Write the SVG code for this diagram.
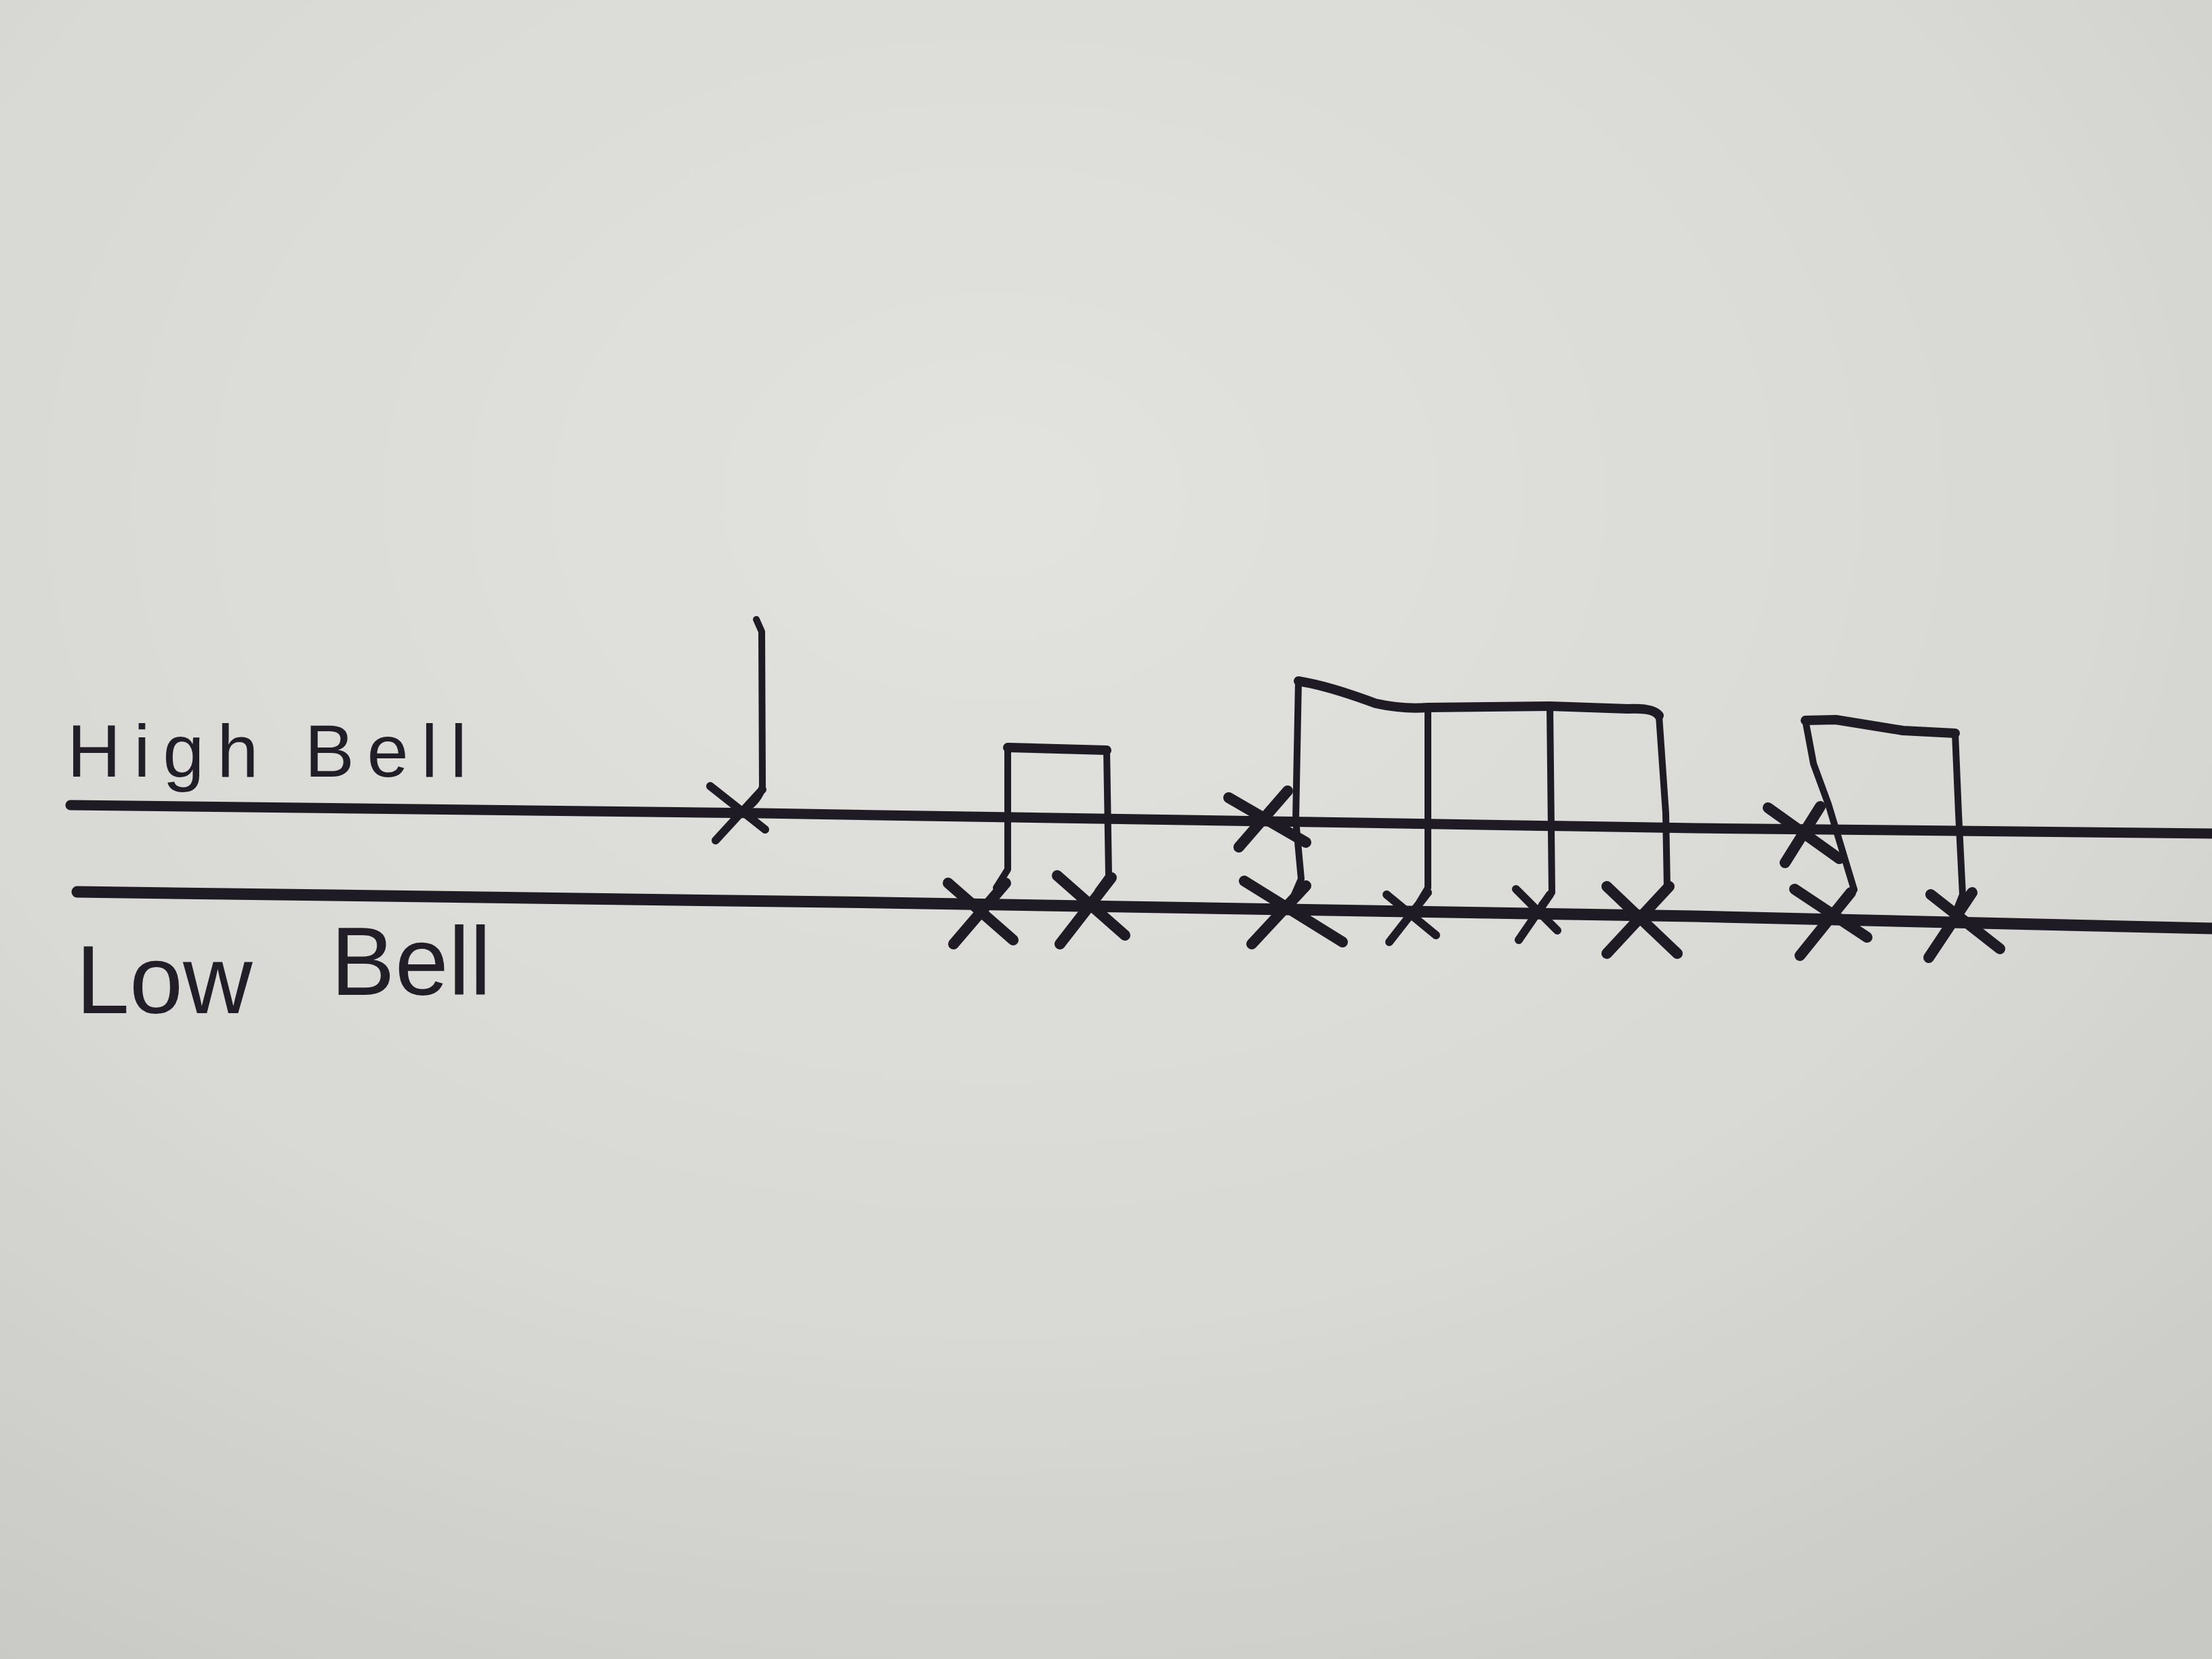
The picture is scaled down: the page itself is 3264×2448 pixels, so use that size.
<svg xmlns="http://www.w3.org/2000/svg" width="3264" height="2448" viewBox="0 0 3264 2448">
<defs>
<radialGradient id="paper" cx="0.45" cy="0.3" r="0.85">
<stop offset="0" stop-color="#e2e2de"/>
<stop offset="0.6" stop-color="#d8d8d4"/>
<stop offset="1" stop-color="#c8c8c4"/>
</radialGradient>
<style>
.ink{fill:none;stroke:#1f1b24;stroke-linecap:round;stroke-linejoin:round}
.staff{stroke-width:15}
.stem{stroke-width:10}
.beam{stroke-width:14}
.x{stroke-width:16}
.xs{stroke-width:12}
.lbl{font-family:"Liberation Sans","DejaVu Sans",sans-serif;fill:#221e28}
</style>
</defs>
<rect width="3264" height="2448" fill="url(#paper)"/>

<g id="staff">
<polyline class="ink staff" points="104,1188 1124,1200 1300,1203 2500,1222 3264,1230"/>
<polyline class="ink staff" points="114,1316 1300,1332 2500,1352 3264,1370" style="stroke-width:17"/>
</g>

<g id="labels">
<text class="lbl" x="99" y="1146" font-size="110" textLength="590" lengthAdjust="spacing">High Bell</text>
<text class="lbl" font-size="142"><tspan x="112" y="1495">Low</tspan> <tspan x="488" y="1468">Bell</tspan></text>
</g>

<g id="note-quarter">
<path class="ink stem" d="M1116,914 L1124,932 L1125,1160 Q1122,1182 1092,1200"/>
<path class="ink xs" d="M1048,1160 L1129,1224 M1125,1165 L1056,1240"/>
</g>

<g id="group1">
<path class="ink beam" d="M1487,1103 L1633,1107"/>
<path class="ink stem" d="M1487,1103 L1487,1283 L1470,1310"/>
<path class="ink stem" d="M1633,1107 L1636,1293 L1620,1315"/>
<path class="ink x" d="M1399,1303 L1495,1387 M1484,1303 L1407,1393"/>
<path class="ink x" d="M1560,1292 L1660,1380 M1640,1295 L1564,1393"/>
</g>

<g id="group2">
<path class="ink beam" d="M1916,1005 Q1960,1012 2030,1038 Q2070,1047 2107,1044 L2287,1042 L2402,1046 Q2440,1044 2448,1056"/>
<path class="ink stem" d="M1916,1005 L1912,1210 L1920,1297 L1910,1320"/>
<path class="ink stem" d="M2107,1044 L2107,1310 L2095,1330"/>
<path class="ink stem" d="M2287,1042 L2290,1317 L2275,1335"/>
<path class="ink stem" d="M2448,1056 L2458,1200 L2460,1310 L2440,1335"/>
<path class="ink x" d="M1813,1177 L1927,1243 M1900,1167 L1828,1250"/>
<path class="ink x" d="M1836,1300 L1981,1390 M1927,1307 L1847,1393"/>
<path class="ink xs" d="M2046,1320 L2119,1380 M2107,1317 L2050,1390"/>
<path class="ink xs" d="M2237,1312 L2298,1373 M2287,1320 L2241,1387"/>
<path class="ink x" d="M2371,1308 L2475,1407 M2463,1308 L2371,1407"/>
</g>

<g id="group3">
<path class="ink beam" d="M2664,1063 L2709,1062 L2808,1078 L2885,1082"/>
<path class="ink stem" d="M2664,1063 L2676,1127 L2698,1187 L2720,1260 L2736,1313 L2722,1330"/>
<path class="ink stem" d="M2885,1082 L2890,1200 L2896,1320 L2888,1340"/>
<path class="ink x" d="M2609,1192 L2714,1267 M2686,1190 L2634,1273"/>
<path class="ink x" d="M2648,1312 L2755,1383 M2731,1317 L2656,1410"/>
<path class="ink x" d="M2849,1320 L2951,1400 M2910,1317 L2846,1413"/>
</g>
</svg>
